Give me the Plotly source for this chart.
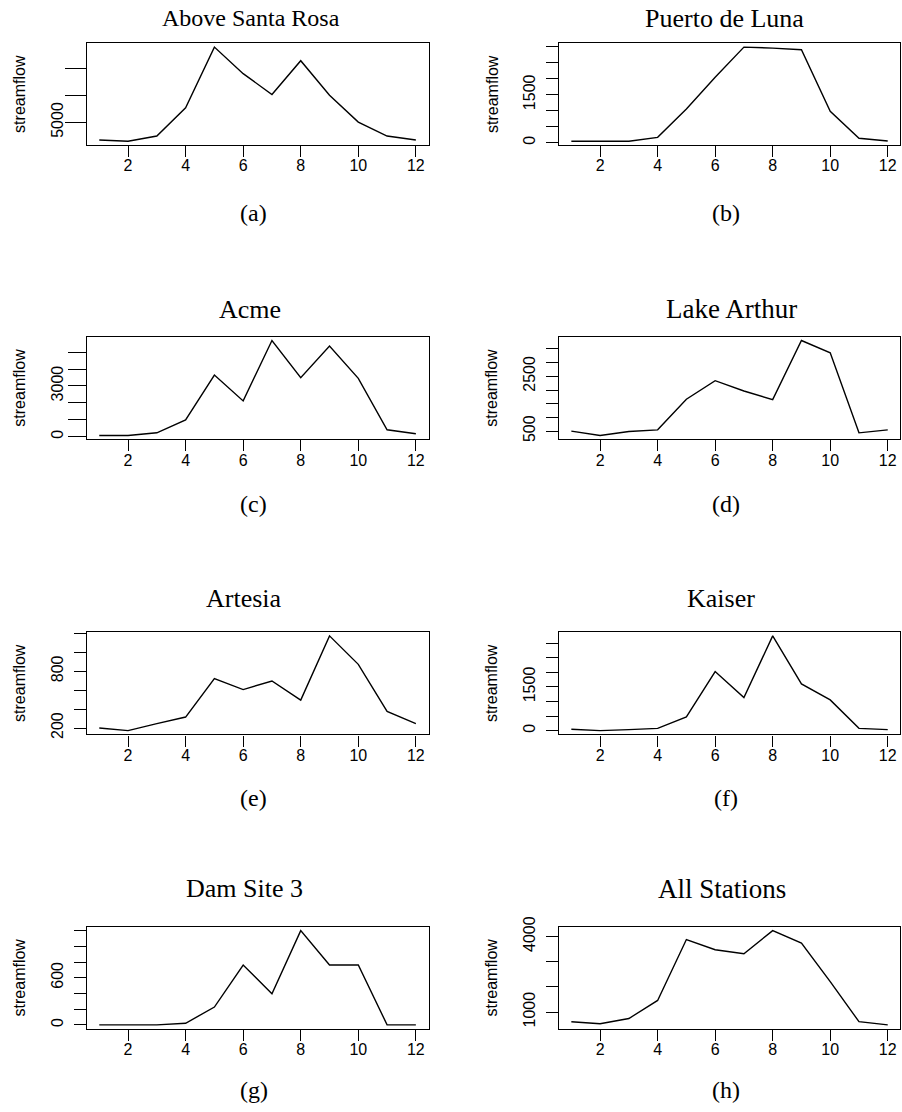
import plotly.graph_objects as go

months = list(range(1, 13))

stations = ["Above Santa Rosa", "Puerto de Luna", "Acme", "Lake Arthur",
            "Artesia", "Kaiser", "Dam Site 3", "All Stations"]
captions = ["(a)", "(b)", "(c)", "(d)", "(e)", "(f)", "(g)", "(h)"]

above_santa_rosa = [1710, 1460, 2450, 7730, 19100, 14130, 10220, 16550, 10090, 5060, 2450, 1710]
puerto_de_luna = [41, 41, 41, 166, 1056, 2050, 2992, 2961, 2909, 983, 135, 52]
acme = [78, 78, 235, 1000, 3647, 2118, 5686, 3490, 5353, 3451, 412, 176]
lake_arthur = [500, 343, 488, 548, 1662, 2340, 1965, 1650, 3805, 3357, 439, 548]
artesia = [200, 172, 246, 316, 723, 607, 698, 495, 1175, 874, 375, 246]
kaiser = [46, 0, 34, 80, 469, 2025, 1133, 3249, 1602, 1053, 80, 34]
dam_site_3 = [0, 0, 0, 20, 227, 762, 397, 1200, 762, 762, 0, 0]
all_stations = [620, 536, 747, 1464, 3882, 3477, 3321, 4236, 3743, 2211, 620, 494]

series = [above_santa_rosa, puerto_de_luna, acme, lake_arthur,
          artesia, kaiser, dam_site_3, all_stations]

y_tickvals = [
    [5000, 10000, 15000],
    [0, 500, 1000, 1500, 2000, 2500, 3000],
    [0, 1000, 2000, 3000, 4000, 5000],
    [500, 1000, 1500, 2000, 2500, 3000, 3500],
    [200, 400, 600, 800, 1000, 1200],
    [0, 500, 1000, 1500, 2000, 2500, 3000],
    [0, 200, 400, 600, 800, 1000, 1200],
    [1000, 2000, 3000, 4000],
]
y_ticktext = [
    ["5000", "", ""],
    ["0", "", "", "1500", "", "", ""],
    ["0", "", "", "3000", "", ""],
    ["500", "", "", "", "2500", "", ""],
    ["200", "", "", "800", "", ""],
    ["0", "", "", "1500", "", "", ""],
    ["0", "", "", "600", "", "", ""],
    ["1000", "", "", "4000"],
]
x_tickvals = [2, 4, 6, 8, 10, 12]

W, H = 902, 1112


def sy(v):
    # vertical placement correction measured on the rendered page
    return (v - 10) / 0.985


col_x = [(86.7, 429.0), (559.3, 901.4)]
row_y = [(sy(42.3), sy(144.0)), (sy(335.5), sy(438.0)),
         (sy(630.7), sy(733.0)), (sy(925.3), sy(1027.0))]
title_y = [sy(17), sy(308), sy(597), sy(887)]
caption_y = [sy(212), sy(503), sy(797), sy(1088)]
title_x = [251, 725, 250, 732, 244, 722, 245, 723]
title_size = [24, 26, 26, 27, 26, 26, 26, 27]
y_ticklen = [21, 12, 18, 12, 12, 12, 12, 12]

serif = "Liberation Serif"
sans = "Liberation Sans"

fig = go.Figure()
annotations = []
layout_axes = {}

for i, vals in enumerate(series):
    r, c = divmod(i, 2)
    n = i + 1
    xa = "x" if n == 1 else f"x{n}"
    ya = "y" if n == 1 else f"y{n}"
    fig.add_trace(go.Scatter(x=months, y=vals, mode="lines",
                             line=dict(color="black", width=1.4),
                             xaxis=xa, yaxis=ya, showlegend=False,
                             hoverinfo="skip"))
    x0, x1 = col_x[c]
    yt, yb = row_y[r]
    lo, hi = min(vals), max(vals)
    pad = 0.04 * (hi - lo)
    axis_common = dict(showline=True, linecolor="black", linewidth=1.2,
                       mirror=True, ticks="outside", tickcolor="black",
                       tickwidth=1.2, showgrid=False, zeroline=False,
                       tickfont=dict(family=sans, size=16, color="black"))
    layout_axes["xaxis" if n == 1 else f"xaxis{n}"] = dict(
        domain=[x0 / W, x1 / W], anchor=ya, range=[0.56, 12.44],
        tickvals=x_tickvals, ticklen=11, ticklabelstandoff=-5, **axis_common)
    layout_axes["yaxis" if n == 1 else f"yaxis{n}"] = dict(
        domain=[1 - yb / H, 1 - yt / H], anchor=xa, range=[lo - pad, hi + pad],
        tickvals=y_tickvals[i], ticktext=y_ticktext[i], tickangle=-90,
        ticklen=y_ticklen[i], ticklabelstandoff=16 - y_ticklen[i], **axis_common)
    annotations.append(dict(text=stations[i], x=title_x[i] / W, y=1 - title_y[r] / H,
                            xref="paper", yref="paper", showarrow=False,
                            xanchor="center", yanchor="middle",
                            font=dict(family=serif, size=title_size[i], color="black")))
    annotations.append(dict(text=captions[i], x=((x0 + x1) / 2 - 4) / W,
                            y=1 - caption_y[r] / H,
                            xref="paper", yref="paper", showarrow=False,
                            xanchor="center", yanchor="middle",
                            font=dict(family=serif, size=24, color="black")))
    annotations.append(dict(text="streamflow", x=(x0 - 67) / W, y=1 - (yt + yb) / 2 / H,
                            xref="paper", yref="paper", showarrow=False,
                            textangle=-90, xanchor="center", yanchor="middle",
                            font=dict(family=sans, size=16, color="black")))

fig.update_layout(width=W, height=H, margin=dict(l=0, r=0, t=0, b=0),
                  paper_bgcolor="white", plot_bgcolor="white",
                  annotations=annotations, **layout_axes)

fig.write_html("out.html")
